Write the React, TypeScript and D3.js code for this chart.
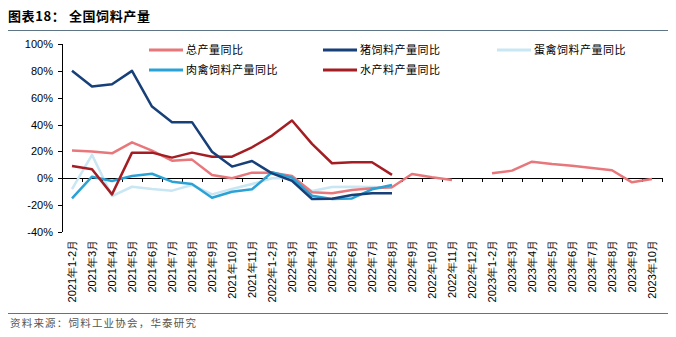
import React from "react";
import * as d3 from "d3";

const categories: string[] = [
  "2021年1-2月", "2021年3月", "2021年4月", "2021年5月", "2021年6月", "2021年7月", "2021年8月", "2021年9月", "2021年10月", "2021年11月",
  "2022年1-2月", "2022年3月", "2022年4月", "2022年5月", "2022年6月", "2022年7月", "2022年8月", "2022年9月", "2022年10月", "2022年11月", "2022年12月",
  "2023年1-2月", "2023年3月", "2023年4月", "2023年5月", "2023年6月", "2023年7月", "2023年8月", "2023年9月", "2023年10月",
];

const totalYoY: (number | null)[] = [20.6, 20, 18.6, 26.8, 20.6, 13.1, 13.9, 2.5, 0, 4.2, 4.2, 1.8, -10.4, -11.2, -8.7, -7.5, -6.7, 3.2, 0.7, -1.3, null, 3.7, 5.7, 12.4, 10.7, 9.4, 7.7, 6, -3, -0.5];
const pigYoY: (number | null)[] = [80, 68.3, 70, 80, 53.4, 41.8, 41.8, 19.8, 8.7, 12.9, 3.7, -1.8, -15.4, -15.2, -12.5, -11.2, -11.2, null, null, null, null, null, null, null, null, null, null, null, null, null];
const layerYoY: (number | null)[] = [-8, 17.4, -13.2, -6.3, -8, -9.2, -5, -12, -8, -4.3, 0, 0, -9.5, -6.5, -6.3, -6.5, -7, null, null, null, null, null, null, null, null, null, null, null, null, null];
const broilerYoY: (number | null)[] = [-14.9, 1.2, -2, 1.7, 3.4, -2.5, -4.3, -14.5, -10, -8.2, 4.5, 0.5, -13, -15.4, -15, -8.2, -5, null, null, null, null, null, null, null, null, null, null, null, null, null];
const aquaYoY: (number | null)[] = [9.2, 6.7, -12, 19.1, 19.1, 15.4, 19.1, 16.1, 16.1, 23.1, 31.8, 43, 25.6, 11.2, 12, 11.9, 2.5, null, null, null, null, null, null, null, null, null, null, null, null, null];

const yTicks: number[] = [100, 80, 60, 40, 20, 0, -20, -40];

const seriesNames: string[] = ["总产量同比", "猪饲料产量同比", "蛋禽饲料产量同比", "肉禽饲料产量同比", "水产料产量同比"];
const seriesColors: string[] = ["#e8777b", "#173f78", "#c9e6f3", "#2aa2d6", "#a31d23"];

const seriesData = [totalYoY, pigYoY, layerYoY, broilerYoY, aquaYoY];
const drawOrder = [2, 0, 3, 4, 1];

export default function App() {
  const W = 676, H = 337;
  const left = 62, right = 662, top = 44, bottom = 232;
  const x = d3.scaleBand<string>().domain(categories).range([left, right]).padding(0);
  const y = d3.scaleLinear().domain([-40, 100]).range([bottom, top]);
  const cx = (i: number) => (x(categories[i]) as number) + x.bandwidth() / 2;

  const line = d3
    .line<number | null>()
    .defined((d) => d !== null)
    .x((_, i) => cx(i))
    .y((d) => y(d as number));

  const sans = "'Liberation Sans', Arial, sans-serif";
  const cjk = "'Noto Sans CJK SC', sans-serif";

  const legendPos = [
    { x: 149, y: 50 },
    { x: 323, y: 50 },
    { x: 497, y: 50 },
    { x: 149, y: 70 },
    { x: 323, y: 70 },
  ];

  return (
    <svg width={W} height={H} style={{ position: "absolute", left: 0, top: 0, background: "#fff" }}>
      <text x={8} y={21} fontFamily={cjk} fontWeight="bold" fontSize={13} letterSpacing={0.6} fill="#000">图表18：  全国饲料产量</text>
      <line x1={8} x2={668} y1={30.5} y2={30.5} stroke="#5d7585" strokeWidth={1} />

      <line x1={left + 0.5} x2={left + 0.5} y1={top} y2={bottom} stroke="#000" strokeWidth={1} />
      {yTicks.map((t) => (
        <g key={t}>
          <line x1={left - 4} x2={left} y1={Math.round(y(t)) + 0.5} y2={Math.round(y(t)) + 0.5} stroke="#000" />
          <text x={53} y={y(t) + 4} textAnchor="end" fontFamily={sans} fontSize={11} fill="#000">{t}%</text>
        </g>
      ))}

      <line x1={left} x2={right} y1={Math.round(y(0)) + 0.5} y2={Math.round(y(0)) + 0.5} stroke="#000" strokeWidth={1} />
      {categories.map((c, i) => (
        <line key={"t" + i} x1={(x(c) as number) + x.bandwidth() + 0.5} x2={(x(c) as number) + x.bandwidth() + 0.5}
          y1={Math.round(y(0))} y2={Math.round(y(0)) + 4} stroke="#000" />
      ))}
      {categories.map((c, i) => (
        <text key={"l" + i} transform={`translate(${cx(i) + 4},${bottom + 8}) rotate(-90)`} textAnchor="end"
          fontFamily={sans} fontSize={11} fill="#000">{c}</text>
      ))}

      {drawOrder.map((si) => (
        <path key={si} d={line(seriesData[si]) || ""} fill="none" stroke={seriesColors[si]} strokeWidth={2.5} strokeLinejoin="round" />
      ))}

      {seriesNames.map((n, i) => (
        <g key={n}>
          <line x1={legendPos[i].x} x2={legendPos[i].x + 34} y1={legendPos[i].y} y2={legendPos[i].y} stroke={seriesColors[i]} strokeWidth={3} />
          <text x={legendPos[i].x + 37} y={legendPos[i].y + 4} fontFamily={cjk} fontSize={11} letterSpacing={0.5} fill="#000">{n}</text>
        </g>
      ))}

      <line x1={8} x2={668} y1={313.5} y2={313.5} stroke="#5d7585" strokeWidth={1} />
      <text x={10} y={327} fontFamily={cjk} fontSize={10.5} letterSpacing={1.2} fill="#555">资料来源：饲料工业协会，华泰研究</text>
    </svg>
  );
}
